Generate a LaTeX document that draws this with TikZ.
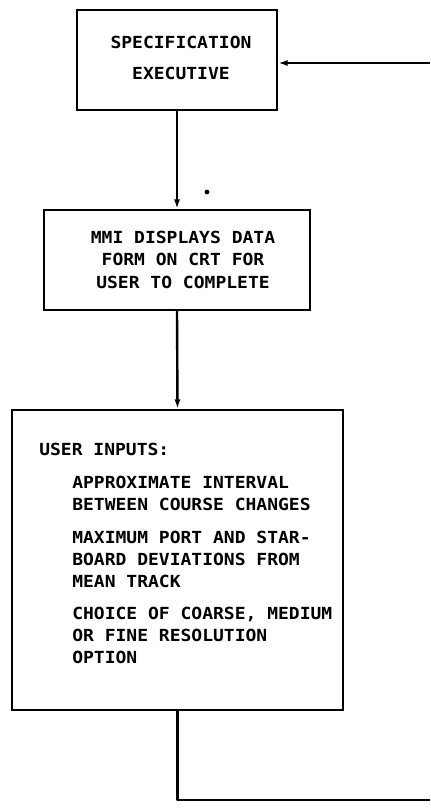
\documentclass[tikz,border=0pt]{standalone}
\usepackage{fontspec}
\usetikzlibrary{arrows.meta}
% typewriter-style capitals for the flowchart labels
\newfontfamily\flowfont[FakeStretch=1.08]{DejaVu Sans Mono Bold}
\tikzset{
  flowline/.style={line width=1.8pt, line join=round},
  boxnode/.style={draw, line width=1.8pt, rectangle, inner sep=0pt},
  labeltext/.style={inner sep=0pt, font=\flowfont\fontsize{12.5}{16.5}\selectfont},
  tip/.style={-{Latex[length=7pt,width=4.5pt]}}
}
\begin{document}
\begin{tikzpicture}[x=0.75pt, y=-0.75pt]
  \useasboundingbox (0,0) rectangle (430,808);

  % boxes
  \node[boxnode, minimum width=200*0.75pt, minimum height=100*0.75pt] (spec) at (177,60) {};
  \node[boxnode, minimum width=266*0.75pt, minimum height=100*0.75pt] (mmi) at (177,260) {};
  \node[boxnode, minimum width=331*0.75pt, minimum height=300*0.75pt] (inputs) at (177.5,560) {};

  % box texts
  \node[labeltext, align=center, font=\flowfont\fontsize{12.5}{23.25}\selectfont] (spectext) at (181,57.5)
    {SPECIFICATION\\EXECUTIVE};
  \node[labeltext, align=center, font=\flowfont\fontsize{12.5}{16.9}\selectfont] (mmitext) at (183,259.5)
    {MMI DISPLAYS DATA\\FORM ON CRT FOR\\USER TO COMPLETE};
  \node[labeltext, anchor=north west] (inhead) at (39,443) {USER INPUTS:};
  \node[labeltext, anchor=north west, align=left] (initems) at (72,476)
    {APPROXIMATE INTERVAL\\
     BETWEEN COURSE CHANGES\\[8pt]
     MAXIMUM PORT AND STAR-\\
     BOARD DEVIATIONS FROM\\
     MEAN TRACK\\[8pt]
     CHOICE OF COARSE, MEDIUM\\
     OR FINE RESOLUTION\\
     OPTION};

  % loose ends of the return path at the right edge
  \coordinate (retin) at (430,63);
  \coordinate (retout) at (430,800);

  % connectors
  \draw[flowline, tip] (spec.south) -- (mmi.north);
  \draw[flowline, tip] (mmi.south) -- (inputs.north);
  \draw[flowline] (inputs.south) |- (retout);
  \draw[flowline, tip] (retin) -- (retin -| spec.east);

  % small mark beside the first connector
  \fill (207,192) circle (1.8pt);
\end{tikzpicture}
\end{document}
